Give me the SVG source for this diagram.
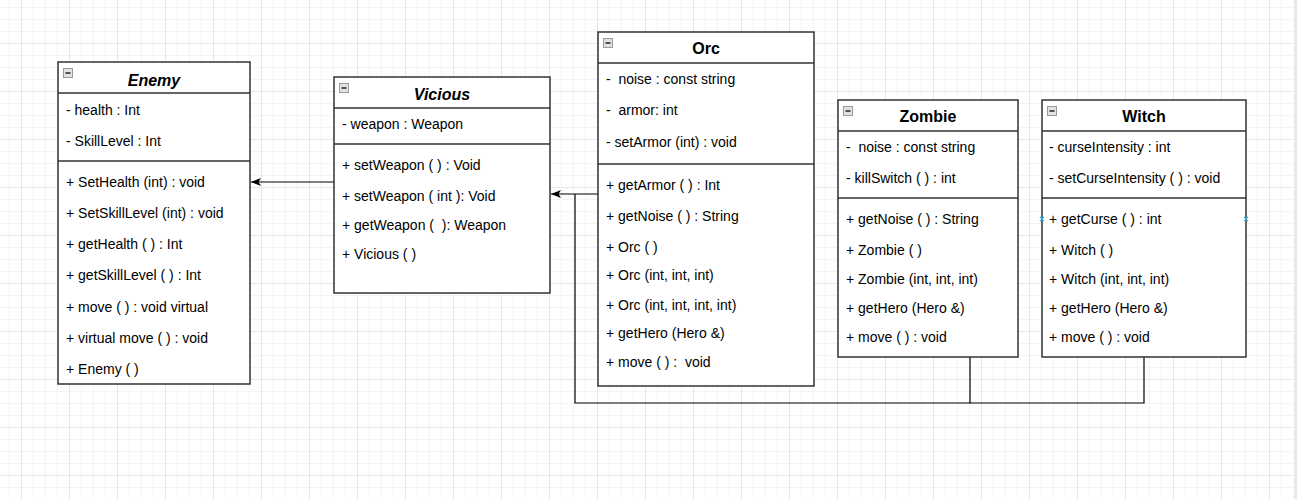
<svg xmlns="http://www.w3.org/2000/svg" width="1297" height="499" viewBox="0 0 1297 499">
<style>
.box{fill:#ffffff;stroke:#333333;stroke-width:1.5}
.div{stroke:#333333;stroke-width:1.5}
.t{font-family:"Liberation Sans",Arial,sans-serif;font-size:14px;fill:#000000;white-space:pre}
.title{font-family:"Liberation Sans",Arial,sans-serif;font-size:16px;font-weight:bold;fill:#000000;text-anchor:middle}
.it{font-style:italic}
.icon{fill:#e2e2e2;stroke:#9a9a9a;stroke-width:1}
.minus{stroke:#222222;stroke-width:1.5}
.edge{fill:none;stroke:#000000;stroke-width:1.2}
.pt{stroke:#29b6f2;stroke-width:1.2}
</style>
<defs>
<pattern id="grid" patternUnits="userSpaceOnUse" x="21" y="43" width="48" height="48">
<rect x="12" y="0" width="1" height="48" fill="#f4f4f4"/>
<rect x="24" y="0" width="1" height="48" fill="#f4f4f4"/>
<rect x="36" y="0" width="1" height="48" fill="#f4f4f4"/>
<rect x="0" y="12" width="48" height="1" fill="#f4f4f4"/>
<rect x="0" y="24" width="48" height="1" fill="#f4f4f4"/>
<rect x="0" y="36" width="48" height="1" fill="#f4f4f4"/>
<rect x="0" y="0" width="1" height="48" fill="#e6e6e6"/>
<rect x="0" y="0" width="48" height="1" fill="#e6e6e6"/>
</pattern>
<marker id="arrow" markerUnits="userSpaceOnUse" markerWidth="10" markerHeight="8" viewBox="0 0 10 8" refX="10" refY="4" orient="auto">
<path d="M0,0 L10,4 L0,8 L2.5,4 Z" fill="#000000"/>
</marker>
</defs>
<rect x="0" y="0" width="1297" height="499" fill="#ffffff"/>
<rect x="0" y="0" width="1293" height="499" fill="url(#grid)"/>
<rect x="1294" y="0" width="3" height="499" fill="#e8e8e8"/>

<g id="connectors">
<path class="edge" d="M334,182 H251" marker-end="url(#arrow)"/>
<path class="edge" d="M598,194 H551" marker-end="url(#arrow)"/>
<path class="edge" d="M970,357 V403 H575 V194"/>
<path class="edge" d="M1144,357 V403 H970"/>
</g>

<g id="enemy">
<rect class="box" x="58" y="62" width="192" height="322"/>
<line class="div" x1="58" y1="93" x2="250" y2="93"/>
<line class="div" x1="58" y1="161" x2="250" y2="161"/>
<rect class="icon" x="63.5" y="68.5" width="9" height="9"/>
<line class="minus" x1="65.5" y1="73" x2="70.5" y2="73"/>
<text class="title it" x="154" y="86">Enemy</text>
<text class="t" x="66" y="115">- health : Int</text>
<text class="t" x="66" y="146">- SkillLevel : Int</text>
<text class="t" x="66" y="187">+ SetHealth (int) : void</text>
<text class="t" x="66" y="218">+ SetSkillLevel (int) : void</text>
<text class="t" x="66" y="249">+ getHealth ( ) : Int</text>
<text class="t" x="66" y="280">+ getSkillLevel ( ) : Int</text>
<text class="t" x="66" y="312">+ move ( ) : void virtual</text>
<text class="t" x="66" y="343">+ virtual move ( ) : void</text>
<text class="t" x="66" y="374">+ Enemy ( )</text>
</g>

<g id="vicious">
<rect class="box" x="334" y="77" width="216" height="216"/>
<line class="div" x1="334" y1="108" x2="550" y2="108"/>
<line class="div" x1="334" y1="144" x2="550" y2="144"/>
<rect class="icon" x="339.5" y="83.5" width="9" height="9"/>
<line class="minus" x1="341.5" y1="88" x2="346.5" y2="88"/>
<text class="title it" x="442" y="100">Vicious</text>
<text class="t" x="342" y="129">- weapon : Weapon</text>
<text class="t" x="342" y="170">+ setWeapon ( ) : Void</text>
<text class="t" x="342" y="201">+ setWeapon ( int ): Void</text>
<text class="t" x="342" y="230">+ getWeapon (  ): Weapon</text>
<text class="t" x="342" y="259">+ Vicious ( )</text>
</g>

<g id="orc">
<rect class="box" x="598" y="32" width="216" height="354"/>
<line class="div" x1="598" y1="63" x2="814" y2="63"/>
<line class="div" x1="598" y1="164" x2="814" y2="164"/>
<rect class="icon" x="603.5" y="38.5" width="9" height="9"/>
<line class="minus" x1="605.5" y1="43" x2="610.5" y2="43"/>
<text class="title" x="706" y="54">Orc</text>
<text class="t" x="606" y="84">-  noise : const string</text>
<text class="t" x="606" y="115">-  armor: int</text>
<text class="t" x="606" y="147">- setArmor (int) : void</text>
<text class="t" x="606" y="190">+ getArmor ( ) : Int</text>
<text class="t" x="606" y="221">+ getNoise ( ) : String</text>
<text class="t" x="606" y="252">+ Orc ( )</text>
<text class="t" x="606" y="280">+ Orc (int, int, int)</text>
<text class="t" x="606" y="310">+ Orc (int, int, int, int)</text>
<text class="t" x="606" y="338">+ getHero (Hero &amp;)</text>
<text class="t" x="606" y="367">+ move ( ) :  void</text>
</g>

<g id="zombie">
<rect class="box" x="838" y="100" width="180" height="257"/>
<line class="div" x1="838" y1="131" x2="1018" y2="131"/>
<line class="div" x1="838" y1="198" x2="1018" y2="198"/>
<rect class="icon" x="843.5" y="106.5" width="9" height="9"/>
<line class="minus" x1="845.5" y1="111" x2="850.5" y2="111"/>
<text class="title" x="928" y="122">Zombie</text>
<text class="t" x="846" y="152">-  noise : const string</text>
<text class="t" x="846" y="183">- killSwitch ( ) : int</text>
<text class="t" x="846" y="224">+ getNoise ( ) : String</text>
<text class="t" x="846" y="255">+ Zombie ( )</text>
<text class="t" x="846" y="284">+ Zombie (int, int, int)</text>
<text class="t" x="846" y="313">+ getHero (Hero &amp;)</text>
<text class="t" x="846" y="342">+ move ( ) : void</text>
</g>

<g id="witch">
<rect class="box" x="1042" y="100" width="204" height="257"/>
<line class="div" x1="1042" y1="131" x2="1246" y2="131"/>
<line class="div" x1="1042" y1="198" x2="1246" y2="198"/>
<rect class="icon" x="1047.5" y="106.5" width="9" height="9"/>
<line class="minus" x1="1049.5" y1="111" x2="1054.5" y2="111"/>
<text class="title" x="1144" y="122">Witch</text>
<text class="t" x="1049" y="152">- curseIntensity : int</text>
<text class="t" x="1049" y="183">- setCurseIntensity ( ) : void</text>
<text class="t" x="1049" y="224">+ getCurse ( ) : int</text>
<text class="t" x="1049" y="255">+ Witch ( )</text>
<text class="t" x="1049" y="284">+ Witch (int, int, int)</text>
<text class="t" x="1049" y="313">+ getHero (Hero &amp;)</text>
<text class="t" x="1049" y="342">+ move ( ) : void</text>
<path class="pt" d="M1040,217 L1044,221 M1044,217 L1040,221 M1244,217 L1248,221 M1248,217 L1244,221"/>
</g>
</svg>
